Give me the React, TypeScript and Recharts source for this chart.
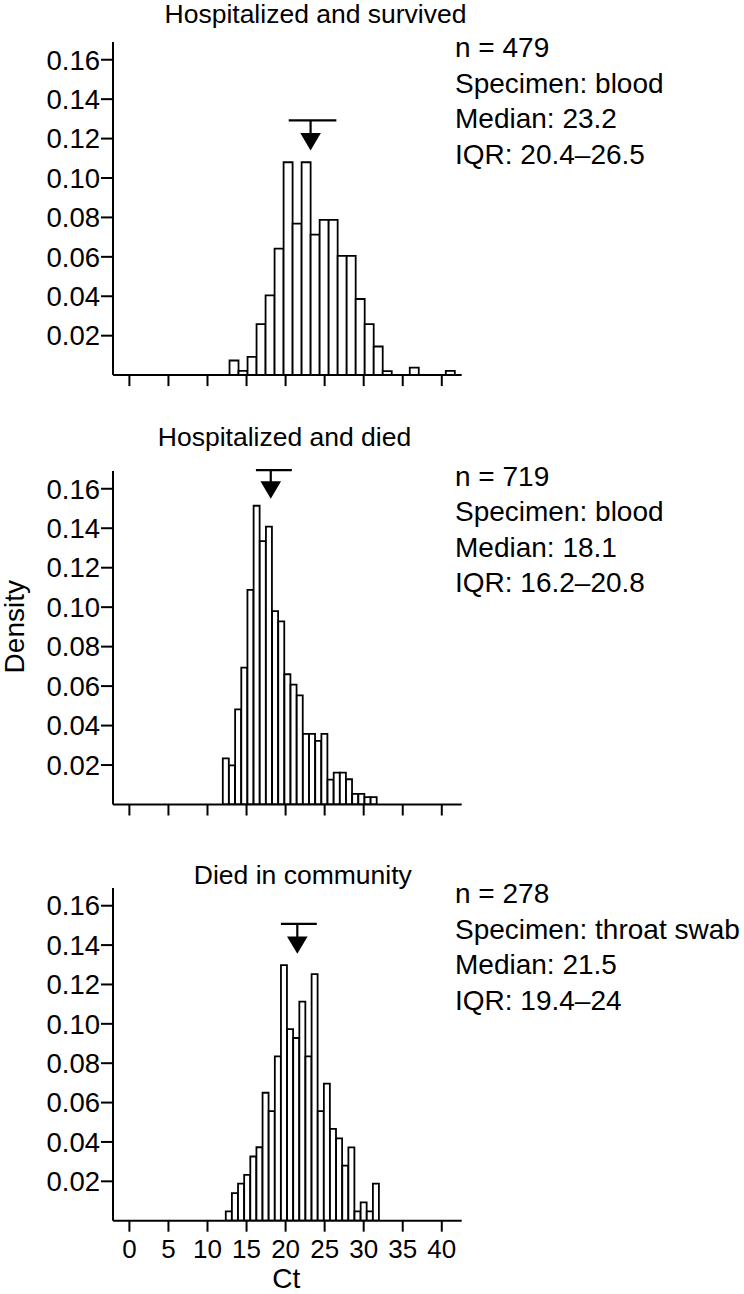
import React from 'react';
import { ComposedChart, Bar, XAxis, YAxis, ReferenceLine, ReferenceDot } from 'recharts';

const FONT = '"Liberation Sans", Arial, Helvetica, sans-serif';

// bin centres (Ct) and densities
const survivedCt = [13.397, 14.551, 15.705, 16.859, 18.013, 19.167, 20.321, 21.475, 22.629, 23.783, 24.937, 26.091, 27.245, 28.399, 29.553, 30.707, 31.861, 33.015, 34.169, 35.323, 36.477, 37.631, 38.785, 39.939, 41.093];
const survivedDensity = [0.0074, 0.0021, 0.0092, 0.0259, 0.0404, 0.0642, 0.108, 0.0769, 0.108, 0.0713, 0.0788, 0.0788, 0.0605, 0.0605, 0.0386, 0.0259, 0.0145, 0.002, 0, 0, 0.0038, 0, 0, 0, 0.0021];

const diedCt = [12.354, 13.143, 13.932, 14.721, 15.510, 16.299, 17.088, 17.877, 18.666, 19.455, 20.244, 21.033, 21.822, 22.611, 23.400, 24.189, 24.978, 25.767, 26.556, 27.345, 28.134, 28.923, 29.712, 30.501, 31.290];
const diedDensity = [0.0234, 0.0198, 0.0482, 0.0694, 0.1088, 0.1514, 0.1335, 0.1408, 0.098, 0.0928, 0.066, 0.0607, 0.0553, 0.0358, 0.0358, 0.0322, 0.0358, 0.0126, 0.0162, 0.0162, 0.0128, 0.0054, 0.0054, 0.0037, 0.0037];

const communityCt = [12.733, 13.518, 14.303, 15.088, 15.873, 16.658, 17.443, 18.228, 19.013, 19.798, 20.583, 21.368, 22.153, 22.938, 23.723, 24.508, 25.293, 26.078, 26.863, 27.648, 28.433, 29.218, 30.003, 30.788, 31.573];
const communityDensity = [0.0047, 0.014, 0.0188, 0.0233, 0.0326, 0.0373, 0.065, 0.0557, 0.0835, 0.1298, 0.0973, 0.0928, 0.1113, 0.0835, 0.1252, 0.0557, 0.0696, 0.0466, 0.0418, 0.028, 0.0372, 0.0047, 0.0093, 0.0047, 0.0188];

const yTicks = [0.02, 0.04, 0.06, 0.08, 0.1, 0.12, 0.14, 0.16];
const xTicks = [0, 5, 10, 15, 20, 25, 30, 35, 40];

const titles = ['Hospitalized and survived', 'Hospitalized and died', 'Died in community'];
const medians = [23.2, 18.1, 21.5];
const iqrs = [[20.4, 26.5], [16.2, 20.8], [19.4, 24]];
// height of the IQR bar and of the median arrow, in density units
const iqrBarY = [0.1292, 0.1694, 0.1508];
const arrowY = [0.1184, 0.1594, 0.14];

const infoLines = [
  ['n = 479', 'Specimen: blood', 'Median: 23.2', 'IQR: 20.4\u201326.5'],
  ['n = 719', 'Specimen: blood', 'Median: 18.1', 'IQR: 16.2\u201320.8'],
  ['n = 278', 'Specimen: throat swab', 'Median: 21.5', 'IQR: 19.4\u201324'],
];

// page layout of each plot area (top, bottom)
const plotTop = [42.3, 471, 888.3];
const plotBottom = [375.4, 804.5, 1221];
const titleX = [315.5, 284.5, 302.8];
const titleBaseline = [22.5, 445.7, 884];

const Arrow = (props: any) => {
  const { cx, cy } = props;
  if (cx == null || cy == null) return null;
  return <path d={`M${cx - 10.3},${cy - 8.7}L${cx + 10.3},${cy - 8.7}L${cx},${cy + 8.7}Z`} fill="#000" />;
};

// keeps the tick marks but draws no label
const NoLabel = () => <g />;

const Panel = ({ idx, ct, density, showLabels }: any) => {
  const data = ct.map((c: number, i: number) => ({ ct: c, density: density[i] }));
  const padTop = 24;
  const axisH = 60;
  const top = plotTop[idx];
  const plotH = plotBottom[idx] - top;
  return (
    <div style={{ position: 'absolute', left: 0, top: top - padTop }}>
      <ComposedChart
        width={744}
        height={padTop + plotH + axisH}
        data={data}
        margin={{ top: padTop, right: 282.3, bottom: 0, left: 0 }}
        barCategoryGap={0}
        barGap={0}
      >
        <XAxis
          type="number"
          dataKey="ct"
          domain={[-2.1, 42.55]}
          allowDataOverflow
          ticks={xTicks}
          interval={0}
          height={axisH}
          tickSize={11}
          tickMargin={8}
          axisLine={{ stroke: '#000', strokeWidth: 2 }}
          tickLine={{ stroke: '#000', strokeWidth: 2 }}
          tick={showLabels ? { fill: '#000', fontSize: 26, fontFamily: FONT } : NoLabel}
        />
        <YAxis
          type="number"
          domain={[0, 0.169]}
          allowDataOverflow
          ticks={yTicks}
          interval={0}
          width={113}
          tickSize={12}
          tickMargin={1}
          tickFormatter={(v: number) => v.toFixed(2)}
          axisLine={{ stroke: '#000', strokeWidth: 2 }}
          tickLine={{ stroke: '#000', strokeWidth: 2 }}
          tick={{ fill: '#000', fontSize: 27.5, fontFamily: FONT }}
        />
        <Bar dataKey="density" fill="#fff" stroke="#000" strokeWidth={1.8} isAnimationActive={false} />
        <ReferenceLine
          segment={[{ x: iqrs[idx][0], y: iqrBarY[idx] }, { x: iqrs[idx][1], y: iqrBarY[idx] }]}
          stroke="#000"
          strokeWidth={2.2}
          ifOverflow="visible"
        />
        <ReferenceLine
          segment={[{ x: medians[idx], y: iqrBarY[idx] }, { x: medians[idx], y: arrowY[idx] }]}
          stroke="#000"
          strokeWidth={2.2}
          ifOverflow="visible"
        />
        <ReferenceDot x={medians[idx]} y={arrowY[idx]} r={10} ifOverflow="visible" shape={Arrow} />
      </ComposedChart>
    </div>
  );
};

export default function App() {
  return (
    <div style={{ position: 'absolute', left: 0, top: 0, width: 744, height: 1294, background: '#fff', fontFamily: FONT }}>
      <Panel idx={0} ct={survivedCt} density={survivedDensity} showLabels={false} />
      <Panel idx={1} ct={diedCt} density={diedDensity} showLabels={false} />
      <Panel idx={2} ct={communityCt} density={communityDensity} showLabels={true} />
      <svg width={744} height={1294} style={{ position: 'absolute', left: 0, top: 0, pointerEvents: 'none' }}>
        {titles.map((t, i) => (
          <text key={t} x={titleX[i]} y={titleBaseline[i]} textAnchor="middle" fontSize={26.5} fontFamily={FONT} fill="#000">
            {t}
          </text>
        ))}
        {infoLines.map((lines, i) =>
          lines.map((l, j) => (
            <text key={`${i}-${j}`} x={455} y={plotTop[i] + 15 + j * 35.4} fontSize={28} fontFamily={FONT} fill="#000">
              {l}
            </text>
          ))
        )}
        <text x={24.5} y={626.7} transform="rotate(-90, 24.5, 626.7)" textAnchor="middle" fontSize={28} fontFamily={FONT} fill="#000">
          Density
        </text>
        <text x={286.3} y={1287.5} textAnchor="middle" fontSize={28} fontFamily={FONT} fill="#000">
          Ct
        </text>
      </svg>
    </div>
  );
}
